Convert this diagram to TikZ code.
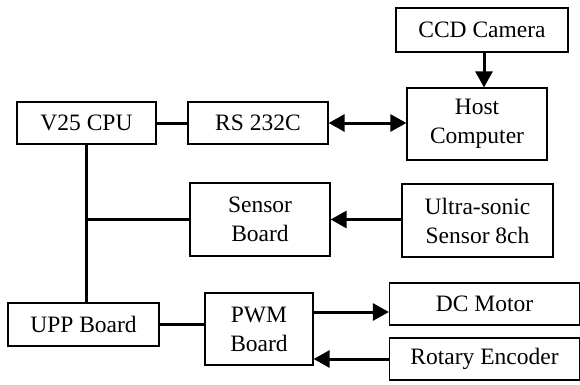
\documentclass[tikz,border=0pt]{standalone}
\usepackage{fontspec}
\setmainfont{Liberation Serif}
\usetikzlibrary{arrows.meta}
\begin{document}
\begin{tikzpicture}[x=1pt,y=1pt,
  blk/.style={draw, line width=1.3pt, inner sep=0pt, align=center,
    font=\fontsize{23.5}{29}\selectfont},
  conn/.style={line width=3pt},
  arr/.style={line width=3pt, -{Triangle[length=16pt,width=17pt]}},
  darr/.style={line width=3pt, {Triangle[length=16pt,width=17pt]}-{Triangle[length=16pt,width=17pt]}}]
\useasboundingbox (0,0) rectangle (580,384);
\node[blk, minimum width=172pt, minimum height=44pt] (ccd) at (482,354) {CCD Camera};
\node[blk, minimum width=140pt, minimum height=72pt] (host) at (477,260) {Host\\Computer};
\node[blk, minimum width=139pt, minimum height=42pt] (v25) at (86.5,261) {V25 CPU};
\node[blk, minimum width=140pt, minimum height=42pt] (rs) at (258,261) {RS 232C};
\node[blk, minimum width=140pt, minimum height=73pt] (sensor) at (260,164.5) {Sensor\\Board};
\node[blk, minimum width=151pt, minimum height=73pt] (ultra) at (477.5,163.5) {Ultra-sonic\\Sensor 8ch};
\node[blk, minimum width=151pt, minimum height=43pt] (upp) at (83.5,59.5) {UPP Board};
\node[blk, minimum width=108pt, minimum height=72pt] (pwm) at (259,55) {PWM\\Board};
\node[blk, minimum width=190pt, minimum height=42pt] (dc) at (484.5,80) {DC Motor};
\node[blk, minimum width=190pt, minimum height=42pt] (rot) at (484.5,25) {Rotary Encoder};
% connectors
\draw[arr] ([xshift=2pt]ccd.south) -- ([xshift=2pt]ccd.south |- host.north);
\draw[darr] (rs.east) -- (rs.east -| host.west);
\draw[conn] (v25.east) -- (rs.west);
\draw[conn] (v25.south) -- (v25.south |- upp.north);
\draw[conn] (v25.south |- sensor.west) -- (sensor.west);
\draw[arr] (ultra.west |- sensor.east) -- (sensor.east);
\draw[conn] (upp.east) -- (upp.east -| pwm.west);
\draw[arr] ([yshift=-8pt]dc.west -| pwm.east) -- ([yshift=-8pt]dc.west);
\draw[arr] (rot.west) -- (rot.west -| pwm.east);
\end{tikzpicture}
\end{document}
